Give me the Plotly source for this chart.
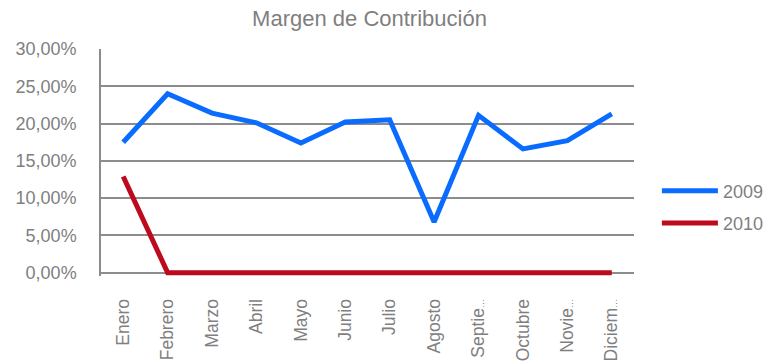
import plotly.graph_objects as go

# Monthly contribution margin, as fractions
meses = ["Enero", "Febrero", "Marzo", "Abril", "Mayo", "Junio", "Julio",
         "Agosto", "Septie…", "Octubre", "Novie…", "Diciem…"]
margen_2009 = [0.175, 0.240, 0.214, 0.201, 0.174, 0.202, 0.205,
               0.068, 0.211, 0.166, 0.177, 0.213]
margen_2010 = [0.129, 0.0, 0.0, 0.0, 0.0, 0.0, 0.0,
               0.0, 0.0, 0.0, 0.0, 0.0]
y_ticks = [0, 0.05, 0.10, 0.15, 0.20, 0.25, 0.30]

FONT = "Liberation Sans, Arial, sans-serif"
GREY_TXT = "#7f7f7f"
GREY_LINE = "#8c8c8c"

# shortened month names: draw the ellipsis smaller so the labels fit
tick_text = [m.replace("…", "<span style='font-size:9px'>…</span>") for m in meses]

fig = go.Figure()
fig.add_trace(go.Scatter(x=meses, y=margen_2009, name="2009", mode="lines",
                         legendgroup="a",
                         line=dict(color="#0A6CFF", width=5)))
fig.add_trace(go.Scatter(x=meses, y=margen_2010, name="2010", mode="lines",
                         legendgroup="b",
                         line=dict(color="#BE0A1E", width=5)))

fig.update_layout(
    width=767, height=361,
    margin=dict(l=101, r=133, t=49, b=85, autoexpand=False),
    paper_bgcolor="white", plot_bgcolor="white",
    separators=",.",
    font=dict(family=FONT, size=18, color=GREY_TXT),
    title=dict(text="Margen de Contribución", x=369.5 / 767, xref="container",
               xanchor="center", y=1 - 18.5 / 361, yref="container",
               yanchor="middle",
               font=dict(family=FONT, size=22, color=GREY_TXT)),
    legend=dict(x=1.043, y=0.304, xanchor="left", yanchor="middle",
                font=dict(family=FONT, size=18, color=GREY_TXT),
                tracegroupgap=6, itemwidth=56),
    showlegend=True,
)

# small negative floor so the zero-valued line is not clipped at the plot edge
fig.update_xaxes(
    type="category", range=[-0.5, 11.5], automargin=False,
    tickvals=meses, ticktext=tick_text,
    showgrid=False, showline=False,
    tickangle=-90, tickfont=dict(family=FONT, size=17.5, color=GREY_TXT),
    ticks="outside", ticklen=15, tickcolor="rgba(0,0,0,0)",
)
fig.update_yaxes(
    range=[-0.0045, 0.30], tickvals=y_ticks, tickformat=".2%",
    automargin=False,
    showgrid=True, gridcolor=GREY_LINE, gridwidth=1.5,
    showline=True, linecolor=GREY_LINE, linewidth=1.5,
    zeroline=False,
    tickfont=dict(family=FONT, size=18, color=GREY_TXT),
    ticks="outside", ticklen=19, tickcolor="rgba(0,0,0,0)",
)

fig.write_html("out.html")
